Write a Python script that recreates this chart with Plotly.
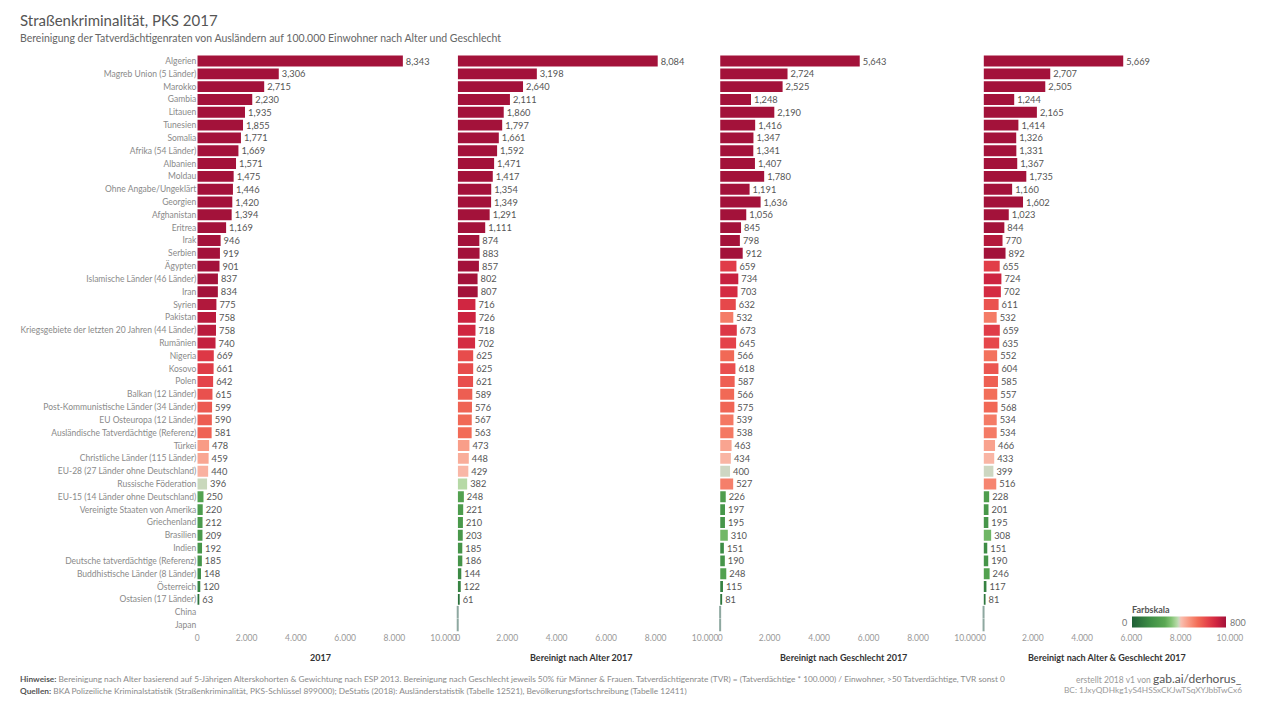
import plotly.graph_objects as go

categories = [
    "Algerien", "Magreb Union (5 Länder)", "Marokko", "Gambia", "Litauen", "Tunesien",
    "Somalia", "Afrika (54 Länder)", "Albanien", "Moldau", "Ohne Angabe/Ungeklärt",
    "Georgien", "Afghanistan", "Eritrea", "Irak", "Serbien", "Ägypten",
    "Islamische Länder (46 Länder)", "Iran", "Syrien", "Pakistan",
    "Kriegsgebiete der letzten 20 Jahren (44 Länder)", "Rumänien", "Nigeria", "Kosovo",
    "Polen", "Balkan (12 Länder)", "Post-Kommunistische Länder (34 Länder)",
    "EU Osteuropa (12 Länder)", "Ausländische Tatverdächtige (Referenz)", "Türkei",
    "Christliche Länder (115 Länder)", "EU-28 (27 Länder ohne Deutschland)",
    "Russische Föderation", "EU-15 (14 Länder ohne Deutschland)",
    "Vereinigte Staaten von Amerika", "Griechenland", "Brasilien", "Indien",
    "Deutsche tatverdächtige (Referenz)", "Buddhistische Länder (8 Länder)", "Österreich",
    "Ostasien (17 Länder)", "China", "Japan",
]

v_2017 = [8343, 3306, 2715, 2230, 1935, 1855, 1771, 1669, 1571, 1475, 1446, 1420, 1394, 1169,
          946, 919, 901, 837, 834, 775, 758, 758, 740, 669, 661, 642, 615, 599, 590, 581, 478,
          459, 440, 396, 250, 220, 212, 209, 192, 185, 148, 120, 63, None, None]

v_alter = [8084, 3198, 2640, 2111, 1860, 1797, 1661, 1592, 1471, 1417, 1354, 1349, 1291, 1111,
           874, 883, 857, 802, 807, 716, 726, 718, 702, 625, 625, 621, 589, 576, 567, 563, 473,
           448, 429, 382, 248, 221, 210, 203, 185, 186, 144, 122, 61, 0, 0]

v_geschlecht = [5643, 2724, 2525, 1248, 2190, 1416, 1347, 1341, 1407, 1780, 1191, 1636, 1056, 845,
                798, 912, 659, 734, 703, 632, 532, 673, 645, 566, 618, 587, 566, 575, 539, 538,
                463, 434, 400, 527, 226, 197, 195, 310, 151, 190, 248, 115, 81, 0, 0]

v_beide = [5669, 2707, 2505, 1244, 2165, 1414, 1326, 1331, 1367, 1735, 1160, 1602, 1023, 844,
           770, 892, 655, 724, 702, 611, 532, 659, 635, 552, 604, 585, 557, 568, 534, 534, 466,
           433, 399, 516, 228, 201, 195, 308, 151, 190, 246, 117, 81, 0, 0]

panel_titles = ["2017", "Bereinigt nach Alter 2017", "Bereinigt nach Geschlecht 2017",
                "Bereinigt nach Alter & Geschlecht 2017"]
x_ticks = [0, 2000, 4000, 6000, 8000, 10000]

series = [v_2017, v_alter, v_geschlecht, v_beide]

H = 720
XS, XO = 1263.0, 2.0   # effective horizontal mapping of the rendered page
FONT = "Lato"


def px(x):
    return (x - XO) / XS


def py(y):
    return 1 - y / H


# pixel positions of each panel (zero .. 10000)
panel_px = [(197, 443), (457, 704), (719, 966), (982, 1228)]
y_top_px, y_bot_px = 54.6, 631.4
ydom = [py(y_bot_px), py(y_top_px)]

colorscale = [
    [0.0, "#1f5f36"],
    [0.2, "#3f8f46"],
    [0.35, "#5aa853"],
    [0.42, "#84c476"],
    [0.48, "#b8daa8"],
    [0.5, "#ced7c3"],
    [0.52, "#f9bfb0"],
    [0.6, "#f99a84"],
    [0.7, "#f26c57"],
    [0.8, "#e5444a"],
    [0.9, "#cf2440"],
    [1.0, "#a3123a"],
]

fig = go.Figure()
layout_axes = {}
for i, vals in enumerate(series):
    n = i + 1
    xa = "x" if n == 1 else f"x{n}"
    ya = "y" if n == 1 else f"y{n}"
    texts = [("" if (v is None or v == 0) else f"{v:,}") for v in vals]
    colors = [(v if v is not None else 0) for v in vals]
    marker = dict(color=colors, colorscale=colorscale, cmin=0, cmax=800,
                  line=dict(width=0), showscale=(n == 4))
    if n == 4:
        marker["colorbar"] = dict(orientation="h", x=px(1130), xanchor="left",
                                  y=py(622), yanchor="middle",
                                  lenmode="fraction", len=94 / XS, thickness=11,
                                  xpad=0, ypad=0,
                                  showticklabels=False, outlinewidth=0)
    fig.add_trace(go.Bar(
        x=vals, y=categories, orientation="h", xaxis=xa, yaxis=ya,
        text=texts, textposition="outside", cliponaxis=False, constraintext="none",
        textfont=dict(family=FONT, size=9.3, color="#555555"),
        marker=marker, hoverinfo="x+y", showlegend=False,
    ))
    zero_cats = [c for c, v in zip(categories, vals) if v == 0]
    zero_vals = [v for v in vals if v == 0]
    if zero_cats:
        fig.add_trace(go.Scatter(
            x=zero_vals, y=zero_cats, mode="markers", xaxis=xa, yaxis=ya,
            marker=dict(symbol="line-ns", size=9, line=dict(color="#8ea8a0", width=2)),
            hoverinfo="skip", showlegend=False, cliponaxis=False,
        ))
    x0, x1 = panel_px[i]
    layout_axes[f"xaxis{'' if n == 1 else n}"] = dict(
        domain=[px(x0), px(x1)], range=[0, 10000], tickvals=x_ticks, tickformat=",d",
        showgrid=False, zeroline=False, showline=False, ticks="",
        tickfont=dict(family=FONT, size=8.5, color="#999999"), anchor=ya, fixedrange=True,
    )
    layout_axes[f"yaxis{'' if n == 1 else n}"] = dict(
        domain=ydom, type="category", categoryorder="array", categoryarray=categories,
        range=[len(categories) - 0.5, -0.5], showgrid=False, zeroline=False, showline=False,
        ticks="", showticklabels=(n == 1), anchor=xa,
        tickfont=dict(family=FONT, size=8.5, color="#8a8a8a"), fixedrange=True,
    )

annotations = []
for i, t in enumerate(panel_titles):
    x0, x1 = panel_px[i]
    annotations.append(dict(text=f"<b>{t}</b>", x=px((x0 + x1) / 2), y=py(657),
                            xref="paper", yref="paper", showarrow=False,
                            xanchor="center", yanchor="middle",
                            font=dict(family=FONT, size=9, color="#333333")))

annotations += [
    dict(text="Straßenkriminalität, PKS 2017", x=px(18), y=py(20), xref="paper", yref="paper",
         showarrow=False, xanchor="left", yanchor="middle",
         font=dict(family=FONT, size=15, color="#555555")),
    dict(text="Bereinigung der Tatverdächtigenraten von Ausländern auf 100.000 Einwohner nach Alter und Geschlecht",
         x=px(18), y=py(38), xref="paper", yref="paper", showarrow=False,
         xanchor="left", yanchor="middle", font=dict(family=FONT, size=10.5, color="#666666")),
    dict(text="<b style='color:#555'>Hinweise:</b> Bereinigung nach Alter basierend auf 5-Jährigen Alterskohorten & Gewichtung nach ESP 2013. "
              "Bereinigung nach Geschlecht jeweils 50% für Männer & Frauen. Tatverdächtigenrate (TVR) = (Tatverdächtige * 100.000) / Einwohner, >50 Tatverdächtige, TVR sonst 0",
         x=px(18), y=py(679), xref="paper", yref="paper", showarrow=False,
         xanchor="left", yanchor="middle", font=dict(family=FONT, size=8.3, color="#8a8a8a")),
    dict(text="<b style='color:#555'>Quellen:</b> BKA Polizeiliche Kriminalstatistik (Straßenkriminalität, PKS-Schlüssel 899000); "
              "DeStatis (2018): Ausländerstatistik (Tabelle 12521), Bevölkerungsfortschreibung (Tabelle 12411)",
         x=px(18), y=py(691), xref="paper", yref="paper", showarrow=False,
         xanchor="left", yanchor="middle", font=dict(family=FONT, size=8.3, color="#8a8a8a")),
    dict(text="erstellt 2018 v1 von <span style='font-size:12px;color:#555'>gab.ai/derhorus_</span>",
         x=px(1242), y=py(678), xref="paper", yref="paper", showarrow=False,
         xanchor="right", yanchor="middle", font=dict(family=FONT, size=8.5, color="#9a9a9a")),
    dict(text="BC: 1JxyQDHkg1yS4HSSxCKJwTSqXYJbbTwCx6",
         x=px(1242), y=py(690), xref="paper", yref="paper", showarrow=False,
         xanchor="right", yanchor="middle", font=dict(family=FONT, size=8.3, color="#9a9a9a")),
    dict(text="<b>Farbskala</b>", x=px(1128), y=py(609), xref="paper", yref="paper",
         showarrow=False, xanchor="left", yanchor="middle",
         font=dict(family=FONT, size=9, color="#555555")),
    dict(text="0", x=px(1127), y=py(622), xref="paper", yref="paper", showarrow=False,
         xanchor="right", yanchor="middle", font=dict(family=FONT, size=9, color="#777777")),
    dict(text="800", x=px(1226), y=py(622), xref="paper", yref="paper", showarrow=False,
         xanchor="left", yanchor="middle", font=dict(family=FONT, size=9, color="#777777")),
]

fig.update_layout(
    autosize=True,
    margin=dict(l=0, r=0, t=0, b=0, pad=0),
    paper_bgcolor="white", plot_bgcolor="white",
    separators=",.",
    bargap=0.15,
    font=dict(family=FONT, color="#666666"),
    annotations=annotations,
    **layout_axes,
)

fig.write_html(
    "out.html",
    config={"displayModeBar": False, "responsive": True},
    default_width="100vw",
    default_height="100vh",
    post_script="document.body.style.margin='0';document.body.style.padding='0';"
                "document.body.style.overflow='hidden';"
                "document.documentElement.style.overflow='hidden';"
                "window.dispatchEvent(new Event('resize'));",
)
